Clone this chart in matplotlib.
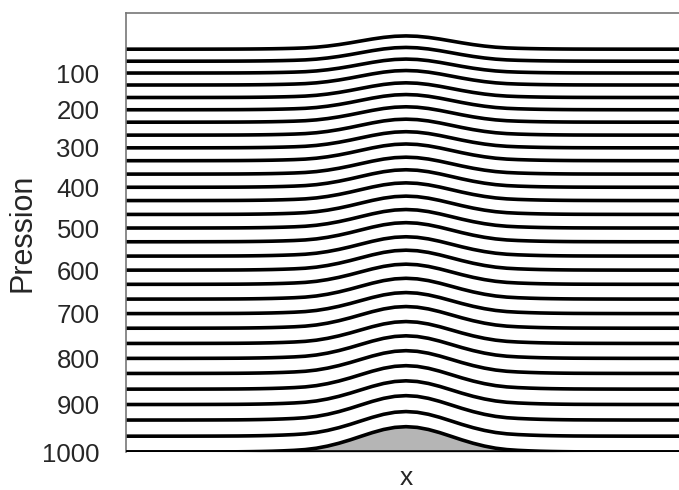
import numpy as np
import matplotlib
matplotlib.use("Agg")
import matplotlib.pyplot as plt

# pressure levels (hPa) of the coordinate surfaces, bottom to top
levels = [1000, 967, 933, 900, 867, 833, 800, 767, 733, 700,
          667, 633, 600, 567, 533, 500, 467, 433, 400, 367,
          333, 300, 267, 233, 200, 167, 133, 100, 67, 33]

# how far (hPa) each surface is lifted over the top of the hill
hill_drop = [53, 52, 52, 51, 51, 50, 50, 49, 49, 48,
             48, 47, 47, 46, 46, 45, 45, 44, 44, 43,
             43, 42, 42, 41, 41, 40, 40, 39, 39, 38]

# hill profile (fraction of peak) read along x
x_pts = [0.0, 0.1, 0.16, 0.20, 0.22, 0.24, 0.26, 0.28, 0.30, 0.32, 0.34, 0.36,
         0.38, 0.40, 0.42, 0.44, 0.46, 0.48, 0.50, 0.52, 0.54, 0.56, 0.58,
         0.60, 0.62, 0.64, 0.66, 0.68, 0.70, 0.72, 0.74, 0.76, 0.78, 0.80,
         0.84, 0.9, 1.0]
shape_pts = [0.0, 0.001, 0.004, 0.008, 0.013, 0.02, 0.03, 0.045, 0.065, 0.095,
             0.149, 0.233, 0.343, 0.475, 0.621, 0.765, 0.888, 0.971, 1.0,
             0.971, 0.888, 0.765, 0.621, 0.475, 0.343, 0.233, 0.149, 0.095,
             0.065, 0.045, 0.03, 0.02, 0.013, 0.008, 0.004, 0.001, 0.0]

yticks = [100, 200, 300, 400, 500, 600, 700, 800, 900, 1000]

# the vertical axis is stretched towards the ground
A = 1.935e-4
def fwd(p):
    p = np.asarray(p, dtype=float)
    return p + A * p * p
def inv(y):
    y = np.asarray(y, dtype=float)
    return (-1 + np.sqrt(np.clip(1 + 4 * A * y, 0, None))) / (2 * A)

plt.rcParams['font.family'] = ['Liberation Sans', 'DejaVu Sans']

fig = plt.figure(figsize=(6.79, 4.90), dpi=100)
ax = fig.add_axes([126 / 679, 1 - 452 / 490, 560 / 679, 439 / 490])
ax.set_yscale('function', functions=(fwd, inv))

x = np.array(x_pts)
shape = np.array(shape_pts)

surface = levels[0] - hill_drop[0] * shape
ax.fill_between(x, surface, 1000, color='#b5b5b5', lw=0, zorder=1)
ax.axhline(1000, color='black', lw=2.6, zorder=3)
for lev, drop in zip(levels, hill_drop):
    ax.plot(x, lev - drop * shape, color='black', lw=2.6,
            solid_capstyle='butt', zorder=2)

ax.set_xlim(0, 1)
ax.set_ylim(1000, -72)
ax.set_yticks(yticks)
ax.set_xticks([])
ax.tick_params(axis='y', length=0, pad=19, labelsize=18.5, labelcolor='#262626')
ax.set_ylabel('Pression', fontsize=22, color='#262626', labelpad=3)
ax.set_xlabel('x', fontsize=19, color='#262626', labelpad=10)

for side in ['top', 'left']:
    ax.spines[side].set_color('#777777')
    ax.spines[side].set_linewidth(1.2)
ax.spines['right'].set_visible(False)
ax.spines['bottom'].set_visible(False)

fig.savefig('out.png', dpi=100)
